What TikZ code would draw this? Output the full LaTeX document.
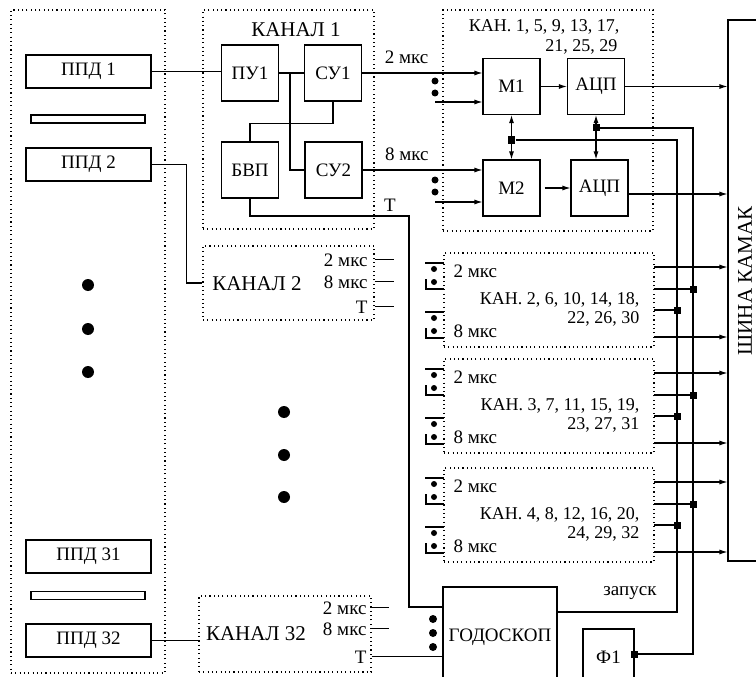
\documentclass[tikz,border=0pt]{standalone}
\usepackage{fontspec}
\setmainfont{Liberation Serif}
\usetikzlibrary{arrows.meta,positioning}

\begin{document}
\begin{tikzpicture}[
        x=1pt, y=-1pt,
        font=\fontsize{19}{22}\selectfont,
        line width=1.1pt,
        blk/.style={draw, inner sep=0pt, minimum width=57pt, minimum height=56pt},
        ppd/.style={draw, inner sep=0pt, minimum width=125pt, minimum height=33pt},
        plate/.style={draw, inner sep=0pt, minimum width=114pt, minimum height=8pt},
        grp/.style={draw, dash pattern=on 1.1pt off 3.2pt, inner sep=0pt},
        lbl/.style={inner sep=0pt},
        chname/.style={inner sep=0pt, font=\fontsize{21}{24}\selectfont},
        kanlist/.style={inner sep=0pt, font=\fontsize{18}{20}\selectfont},
        arr/.style={-{Latex[length=8pt,width=5pt]}},
        biarr/.style={{Latex[length=8pt,width=5pt]}-{Latex[length=8pt,width=5pt]}},
        sq/.style={fill, inner sep=0pt, minimum size=7pt}
    ]
        \useasboundingbox (0,0) rectangle (756,677);

        % detectors
        \node[grp, minimum width=154pt, minimum height=663pt] (ppdbox) at (88,341.5) {};
        \node[ppd] (ppd1) at (88.5,71.5) {ППД 1};
        \node[plate] (pl1) at (88,119) {};
        \node[ppd] (ppd2) at (88.5,164.5) {ППД 2};
        \node[ppd] (ppd31) at (88.5,556.5) {ППД 31};
        \node[plate] (pl31) at (88,595.5) {};
        \node[ppd] (ppd32) at (88.5,640.5) {ППД 32};
        \foreach \y in {285,329,372} \fill (88,\y) circle (6pt);
        \foreach \y in {412,455,497} \fill (284,\y) circle (6pt);

        % channel 1
        \node[grp, minimum width=171pt, minimum height=219pt] (ch1) at (288.5,119.5) {};
        \node[chname] (ch1l) at (296,30) {КАНАЛ 1};
        \node[blk] (pu1) at (250,73) {ПУ1};
        \node[blk] (su1) at (333,73) {СУ1};
        \node[blk] (bvp) at (250,170) {БВП};
        \node[blk] (su2) at (333.5,170) {СУ2};
        \coordinate (j1) at (290,73);
        \coordinate (tk1) at (409,216);
        \coordinate (tin) at (443,607);
        \draw (ppd1.east) -- (ppd1.east -| pu1.west);
        \draw (pu1) -- (su1);
        \draw (j1) |- (su2.west);
        \draw (su1.south) -- ++(0,22) -| (bvp.north);
        \draw (bvp.south) |- (tk1) |- (tin);
        \node[lbl] (tl) at (390,205) {Т};

        % channels 1, 5, ... 29
        \node[grp, minimum width=210pt, minimum height=221pt] (k1) at (548,120.5) {};
        \node[kanlist, anchor=base east] (k1la) at (620,32) {КАН. 1, 5, 9, 13, 17,};
        \node[kanlist, anchor=base east] (k1lb) at (618,52) {21, 25, 29};
        \node[blk] (m1) at (511.5,86.5) {М1};
        \node[blk] (adc1) at (596,86.5) {АЦП};
        \node[blk] (m2) at (511.5,188) {М2};
        \node[blk] (adc2) at (599.5,188) {АЦП};
        \draw[arr] (su1.east) -- (su1.east -| m1.west) node[lbl, pos=0.37, above=9pt] {2 мкс};
        \draw[arr] (su2.east) -- (su2.east -| m2.west) node[lbl, pos=0.37, above=9pt] {8 мкс};
        \fill (435,81) circle (3.5pt) (435,93) circle (3.5pt);
        \fill (435,180) circle (3.5pt) (435,192) circle (3.5pt);
        \coordinate (m1in) at (435,102);
        \coordinate (m2in) at (435,202);
        \draw[arr] (m1in) -- (m1in -| m1.west);
        \draw[arr] (m2in) -- (m2in -| m2.west);
        \draw[arr] (m1) -- (adc1);
        \draw[arr, shorten <=4pt] (m2) -- (adc2);
        \draw[biarr] (m1.south) -- (m2.north);
        \draw[biarr] (adc1.south) -- (adc1.south |- adc2.north);

        % camac bus
        \node[draw, minimum width=56pt, minimum height=541pt] (bus) at (756,290.5) {};
        \node[chname, rotate=90] (busl) at (745,281) {ШИНА КАМАК};
        \draw[arr] (adc1) -- (adc1 -| bus.west);
        \draw[arr] ([yshift=-6pt]adc2.east) -- ([yshift=-6pt]adc2.east -| bus.west);

        % hodoscope and trigger
        \node[draw, inner sep=0pt, minimum width=114pt, minimum height=100pt] (godo) at (500,637) {ГОДОСКОП};
        \node[draw, inner sep=0pt, minimum width=51pt, minimum height=56pt] (f1) at (608.5,657) {Ф1};
        \foreach \y in {619,633,647} \fill (433,\y) circle (4pt);
        \node[sq] (sqa) at (511.5,140) {};
        \node[sq] (sqb) at (596,128) {};
        \coordinate (ctA) at (677,612);
        \coordinate (ctB) at (693,654);
        \draw (sqa) -| (ctA) -- (ctA -| godo.east);
        \draw (sqb) -| (ctB) -- (ctB -| f1.east) node[sq] {};
        \node[lbl, anchor=base] (zap) at (630,595) {запуск};

        % channels 2..4, 6..8, ...
        \foreach \tp/\nr/\la/\lb in {253/2/{КАН. 2, 6, 10, 14, 18,}/{22, 26, 30},
                                    359/3/{КАН. 3, 7, 11, 15, 19,}/{23, 27, 31},
                                    468/4/{КАН. 4, 8, 12, 16, 20,}/{24, 29, 32}} {
            \node[grp, minimum width=210pt, minimum height=94pt] (k\nr) at (549,\tp+47) {};
            \node[lbl, anchor=base west] at (453,\tp+24) {2 мкс};
            \node[kanlist, anchor=base east] at (640,\tp+51) {\la};
            \node[kanlist, anchor=base east] at (640,\tp+70) {\lb};
            \node[lbl, anchor=base west] at (453,\tp+84) {8 мкс};
            \coordinate (oa) at (654,\tp+14);
            \coordinate (ob) at (654,\tp+36);
            \coordinate (oc) at (654,\tp+57);
            \coordinate (od) at (654,\tp+84);
            \draw[arr] (oa) -- (oa -| bus.west);
            \draw (ob) -- (ob -| ctB) node[sq] {};
            \draw (oc) -- (oc -| ctA) node[sq] {};
            \draw[arr] (od) -- (od -| bus.west);
            \foreach \d in {10,59} {
                \draw (425,\tp+\d) -- (444,\tp+\d);
                \fill (434,\tp+\d+6) circle (3pt) (434,\tp+\d+19) circle (3pt);
                \draw (426,\tp+\d+16) |- (444,\tp+\d+26);
            }
        }

        % channel 2
        \node[grp, minimum width=171pt, minimum height=74pt] (ch2) at (288.5,283) {};
        \node[chname] (ch2l) at (257,284) {КАНАЛ 2};
        \node[lbl, anchor=base east] (ch2a) at (368,266) {2 мкс};
        \node[lbl, anchor=base east] (ch2b) at (368,288) {8 мкс};
        \node[lbl, anchor=base east] (ch2t) at (368,313) {Т};
        \foreach \s in {ch2a,ch2b,ch2t} \draw (\s.east -| ch2.east) -- ++(19,0);
        \draw (ppd2.east) -- ++(35,0) |- (ch2.west);

        % channel 32
        \node[grp, minimum width=172pt, minimum height=76pt] (ch32) at (285,634) {};
        \node[chname] (ch32l) at (256,634) {КАНАЛ 32};
        \node[lbl, anchor=base east] (ch32a) at (367,614) {2 мкс};
        \node[lbl, anchor=base east] (ch32b) at (367,635) {8 мкс};
        \node[lbl, anchor=base east] (ch32t) at (367,663) {Т};
        \foreach \s in {ch32a,ch32b} \draw (\s.east -| ch32.east) -- ++(17,0);
        \draw (ch32t.east -| ch32.east) -- (ch32t.east -| godo.west);
        \draw (ppd32.east) -- (ppd32.east -| ch32.west);
    \end{tikzpicture}
\end{document}
